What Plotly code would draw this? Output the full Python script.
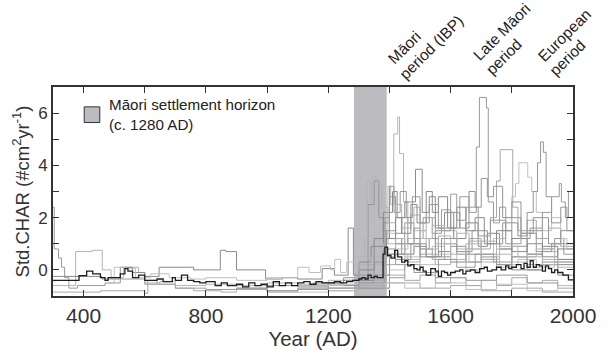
import plotly.graph_objects as go

# ---------------- data ----------------
settlement_start = 1284
settlement_end = 1391
end_year = 2000

comp_years = [300,385,410,430,455,470,480,520,535,545,560,580,600,640,660,690,700,720,740,760,780,800,830,850,870,900,920,940,960,980,1000,1020,1040,1060,1080,1100,1120,1140,1160,1180,1200,1220,1240,1260,1280,1300,1310,1320,1330,1340,1350,1360,1379,1385,1394,1405,1417,1427,1440,1450,1460,1470,1480,1490,1500,1510,1520,1535,1550,1560,1570,1580,1590,1600,1615,1630,1640,1650,1665,1680,1695,1710,1720,1735,1750,1765,1780,1790,1800,1815,1830,1840,1850,1860,1870,1880,1890,1900,1910,1920,1930,1940,1950,1967,1985]
comp_vals = [-0.4,-0.22,-0.05,-0.15,-0.3,-0.4,-0.3,-0.15,0.05,-0.05,-0.3,-0.2,-0.4,-0.35,-0.45,-0.3,-0.4,-0.2,-0.4,-0.45,-0.5,-0.45,-0.6,-0.5,-0.6,-0.55,-0.65,-0.5,-0.6,-0.55,-0.65,-0.45,-0.6,-0.5,-0.6,-0.5,-0.45,-0.55,-0.45,-0.5,-0.5,-0.45,-0.5,-0.45,-0.4,-0.35,-0.3,-0.35,-0.2,-0.3,-0.25,-0.3,0.6,0.87,0.55,0.45,0.75,0.5,0.3,0.35,0.15,0.2,0.05,0.0,0.1,-0.05,-0.2,0.05,-0.05,-0.25,-0.05,-0.1,-0.2,-0.1,-0.05,0.0,-0.15,-0.05,0.0,-0.1,0.05,0.1,-0.05,0.0,0.1,0.0,0.15,0.05,0.1,0.2,0.05,0.25,0.1,0.35,0.1,0.2,0.15,-0.05,0.15,0.05,-0.1,0.0,-0.1,-0.2,-0.38]

e1_years = [300,304,318,328,338,352,380,470,520,600,700,800,900,1000,1100,1200,1300,1380,1420,1480,1550,1650,1750,1850,1950]
e1_vals = [2.4,0.8,0.45,0.1,-0.3,-0.7,-0.6,-0.5,-0.35,-0.55,-0.7,-0.75,-0.7,-0.8,-0.7,-0.6,-0.3,0.6,0.2,-0.1,-0.3,-0.4,-0.2,-0.5,-0.6]

e2_years = [300,374,428,461,490,530,580,600,650,700,800,900,1000,1100,1200,1300,1390,1450,1500,1550,1600,1650,1700,1750,1800,1850,1900,1950]
e2_vals = [-0.6,0.7,0.75,0.0,-0.3,0.1,-0.1,-0.5,-0.45,-0.6,-0.55,-0.6,-0.5,-0.55,-0.4,0.2,1.0,0.4,0.6,0.2,0.4,0.0,0.3,0.1,0.5,0.2,0.4,0.1]

e3_years = [300,460,520,560,600,647,730,760,847,865,900,995,1050,1100,1180,1220,1265,1282,1300,1340,1380,1400,1440,1480,1520,1560,1600,1650,1700,1750,1800,1900]
e3_vals = [-0.25,-0.35,0.1,-0.1,-0.25,0.1,0.1,0.0,0.75,0.7,0.0,-0.35,-0.3,-0.35,0.05,-0.2,1.6,-0.2,0.3,0.9,1.8,1.2,0.6,0.9,0.5,0.7,0.3,0.6,0.4,0.2,0.0,0.2]

e4_years = [300,455,600,610,640,700,760,850,900,1000,1100,1200,1300,1400,1500,1600,1700,1800,1900]
e4_vals = [-0.85,-0.8,-0.9,-0.4,-0.55,-0.7,-0.8,-0.85,-0.75,-0.85,-0.75,-0.8,-0.7,-0.5,-0.7,-0.6,-0.8,-0.7,-0.85]

e5_years = [480,500,540,570,620,680,750,800,900,1000,1100,1137,1175,1207,1221,1240,1260,1300,1330,1360,1380,1420,1460,1500,1540,1580,1620,1660,1700,1760,1820,1880,1940]
e5_vals = [-0.5,0.1,0.05,-0.3,-0.15,-0.3,-0.35,-0.3,-0.4,-0.3,0.1,-0.1,0.15,0.0,0.4,-0.1,0.3,0.8,1.5,2.2,1.4,0.8,1.2,0.6,0.9,0.4,0.7,0.3,0.5,0.2,0.4,0.1,0.3]

m1_years = [900,1000,1100,1200,1250,1300,1330,1350,1365,1380,1400,1420,1440,1460,1480,1500,1530,1560,1600,1650,1700,1750,1800,1850,1900,1950]
m1_vals = [-0.7,-0.6,-0.65,-0.5,-0.3,-0.2,2.5,3.4,2.0,1.5,2.8,1.4,2.0,1.0,1.6,0.8,1.2,0.5,0.9,0.3,0.6,0.2,0.5,0.0,0.3,-0.2]

g1_years = [1000,1100,1200,1300,1350,1390,1420,1450,1480,1510,1540,1570,1600,1630,1660,1684,1694,1717,1723,1740,1760,1780,1800,1830,1860,1900,1940,1970]
g1_vals = [-0.8,-0.75,-0.7,-0.5,0.3,1.5,1.0,1.8,1.2,2.0,1.4,2.3,1.6,2.8,2.2,4.7,6.6,6.2,2.6,1.8,2.4,1.5,2.0,1.2,1.6,0.8,1.2,0.6]

g2_years = [1100,1200,1300,1340,1380,1395,1404,1414,1427,1433,1446,1460,1480,1500,1520,1550,1580,1620,1660,1700,1750,1800,1850,1900,1950]
g2_vals = [-0.6,-0.55,-0.4,0.5,1.0,3.2,2.5,5.2,5.85,4.45,2.6,1.8,2.4,1.5,2.0,1.0,1.5,0.8,1.1,0.5,0.8,0.3,0.6,0.2,0.4]

g3_years = [1150,1250,1300,1350,1380,1410,1425,1450,1485,1507,1530,1550,1580,1610,1650,1690,1720,1760,1800,1850,1900,1950]
g3_vals = [-0.5,-0.4,0.0,1.2,2.2,3.0,2.0,2.6,3.85,2.2,2.8,1.6,2.2,1.2,1.8,0.9,1.4,0.8,1.2,0.6,0.9,0.4]

g4_years = [1200,1300,1380,1420,1460,1500,1540,1580,1620,1660,1700,1730,1750,1762,1803,1820,1850,1880,1920,1960]
g4_vals = [-0.7,-0.6,0.2,0.6,0.3,0.8,0.4,1.0,0.6,1.2,0.8,2.0,3.4,4.6,2.4,1.5,1.9,1.2,1.6,0.9]

g5_years = [1200,1300,1400,1450,1500,1550,1600,1650,1700,1740,1780,1800,1812,1823,1852,1865,1880,1900,1930,1960,1980]
g5_vals = [-0.6,-0.5,0.0,0.5,0.2,0.6,0.3,0.8,0.5,1.2,2.0,2.8,3.3,4.1,3.55,3.0,2.2,1.5,2.0,1.2,0.8]

g6_years = [1250,1300,1380,1420,1470,1520,1570,1620,1670,1720,1770,1820,1850,1870,1884,1894,1903,1912,1930,1960,1980]
g6_vals = [-0.6,-0.3,0.8,0.4,1.0,0.5,1.2,0.7,1.5,1.0,1.8,1.3,2.2,3.0,4.1,4.9,4.5,2.8,1.8,2.4,1.5]

g7_years = [1300,1400,1450,1500,1560,1620,1680,1740,1800,1850,1900,1930,1955,1962,1975,1985]
g7_vals = [-0.7,-0.3,0.2,-0.1,0.4,0.1,0.6,0.3,0.9,1.5,2.2,2.8,3.3,2.6,2.0,3.0]

g8_years = [1280,1300,1318,1327,1340,1346,1356,1366,1375,1395,1420,1440,1470,1500,1540,1580,1620,1660,1700,1750,1800,1850,1900,1950]
g8_vals = [-0.3,0.5,1.2,3.4,2.6,3.6,3.45,3.2,2.4,1.8,2.5,1.6,2.1,1.2,1.7,1.0,1.4,0.8,1.1,0.6,0.9,0.5,0.7,0.3]

g9_years = [1300,1390,1420,1440,1470,1490,1520,1540,1560,1590,1620,1650,1680,1710,1750,1800,1850,1900,1950]
g9_vals = [-0.4,1.2,2.0,1.4,2.5,1.8,3.0,2.2,2.8,1.6,2.4,1.5,2.0,1.0,1.5,0.7,1.0,0.5,0.8]

g10_years = [1200,1300,1390,1450,1500,1550,1600,1650,1700,1750,1800,1850,1900,1950]
g10_vals = [-0.7,-0.6,-0.2,-0.4,-0.2,-0.5,-0.3,-0.6,-0.4,-0.6,-0.3,-0.5,-0.4,-0.7]

g11_years = [1000,1200,1390,1450,1550,1650,1750,1850,1950]
g11_vals = [-0.85,-0.8,-0.5,-0.7,-0.5,-0.75,-0.55,-0.8,-0.6]

g12_years = [1350,1400,1450,1500,1550,1600,1630,1660,1680,1700,1720,1740,1770,1800,1830,1870,1920,1960]
g12_vals = [-0.2,0.6,1.0,0.5,1.5,2.2,1.6,3.0,2.4,3.5,2.8,3.2,2.0,2.6,1.4,2.0,1.0,1.5]

g13_years = [1300,1385,1400,1415,1435,1455,1475,1500,1530,1560,1600,1620,1650,1690,1730,1780,1830,1880,1930]
g13_vals = [-0.5,2.0,3.2,2.2,3.0,2.0,2.8,1.8,2.5,1.6,2.9,1.9,2.4,1.3,1.9,1.0,1.4,0.7,1.0]

g14_years = [1350,1390,1420,1450,1480,1520,1560,1600,1650,1700,1760,1820,1880,1940]
g14_vals = [-0.4,0.5,1.2,0.6,1.5,0.8,1.3,0.6,1.0,0.4,0.9,0.5,0.8,0.3]

x_ticks = [400, 800, 1200, 1600, 2000]
y_ticks = [0, 2, 4, 6]

# period labels: one entry per text line
period_lines = ["Māori", "period (IBP)", "Late Māori", "period", "European", "period"]
legend_text = "Māori settlement horizon<br>(c. 1280 AD)"

# ---------------- figure ----------------
def step_xy(years, vals):
    assert len(years) == len(vals), (len(years), len(vals))
    return list(years) + [end_year], list(vals) + [vals[-1]]

grays = ["#9a9a9a", "#b4b4b4", "#8a8a8a", "#a8a8a8", "#c0c0c0", "#959595"]
series = [e1_years, e2_years, e3_years, e4_years, e5_years, m1_years, g1_years, g2_years,
          g3_years, g4_years, g5_years, g6_years, g7_years, g8_years, g9_years, g10_years,
          g11_years, g12_years, g13_years, g14_years]
values = [e1_vals, e2_vals, e3_vals, e4_vals, e5_vals, m1_vals, g1_vals, g2_vals,
          g3_vals, g4_vals, g5_vals, g6_vals, g7_vals, g8_vals, g9_vals, g10_vals,
          g11_vals, g12_vals, g13_vals, g14_vals]

fig = go.Figure()
for i, (yrs, vals) in enumerate(zip(series, values)):
    x, y = step_xy(yrs, vals)
    fig.add_trace(go.Scatter(x=x, y=y, mode="lines", line_shape="hv",
                             line=dict(color=grays[i % len(grays)], width=1),
                             showlegend=False, hoverinfo="skip"))

x, y = step_xy(comp_years, comp_vals)
fig.add_trace(go.Scatter(x=x, y=y, mode="lines", line_shape="hv",
                         line=dict(color="#1e1e1e", width=1.3),
                         showlegend=False, hoverinfo="skip"))

fig.add_shape(type="rect", xref="x", yref="paper", x0=settlement_start, x1=settlement_end,
              y0=0, y1=1, fillcolor="#bcbcc0", line_width=0, layer="below")

# legend box
fig.add_shape(type="rect", xref="paper", yref="paper", x0=0.060, x1=0.090, y0=0.830, y1=0.905,
              fillcolor="#bcbcc0", line=dict(color="#333333", width=1))
fig.add_annotation(xref="paper", yref="paper", x=0.104, y=0.868, xanchor="left", yanchor="middle",
                   text=legend_text, showarrow=False, align="left",
                   font=dict(size=15.2, color="#222222"))

# period labels (rotated lines, positioned by their centres)
line_pos = [(0.6755, 1.1895), (0.7270, 1.1895), (0.8634, 1.2654),
            (0.8672, 1.1469), (0.9830, 1.2460), (0.9900, 1.1400)]
for txt, (px, py) in zip(period_lines, line_pos):
    fig.add_annotation(xref="paper", yref="paper", x=px, y=py, xanchor="center", yanchor="middle",
                       text=txt, showarrow=False, textangle=-45,
                       font=dict(size=15.5, color="#222222"))

fig.update_layout(
    width=608, height=355,
    margin=dict(l=53, r=28, t=87, b=57),
    plot_bgcolor="white", paper_bgcolor="white",
    font=dict(family="Liberation Sans, Arial, sans-serif", color="#333333"),
)
fig.update_xaxes(range=[300, 2000], tickvals=x_ticks, ticks="inside", ticklen=6, tickcolor="#333",
                 minor=dict(dtick=200, tick0=0, ticks="inside", ticklen=6, tickcolor="#333"),
                 showline=True, linecolor="#333333", linewidth=1.8, mirror="allticks",
                 showgrid=False, zeroline=False, tickfont=dict(size=21),
                 title=dict(text="Year (AD)", font=dict(size=20.5), standoff=2))
fig.update_yaxes(range=[-1, 7], tickvals=y_ticks, ticks="inside", ticklen=6, tickcolor="#333",
                 minor=dict(dtick=1, tick0=0, ticks="inside", ticklen=6, tickcolor="#333"),
                 showline=True, linecolor="#333333", linewidth=1.6, mirror="allticks",
                 showgrid=False, zeroline=False, tickfont=dict(size=17),
                 title=dict(text="Std.CHAR (#cm<sup>2</sup>yr<sup>-1</sup>)", font=dict(size=18.5), standoff=4))

fig.write_html("out.html")
